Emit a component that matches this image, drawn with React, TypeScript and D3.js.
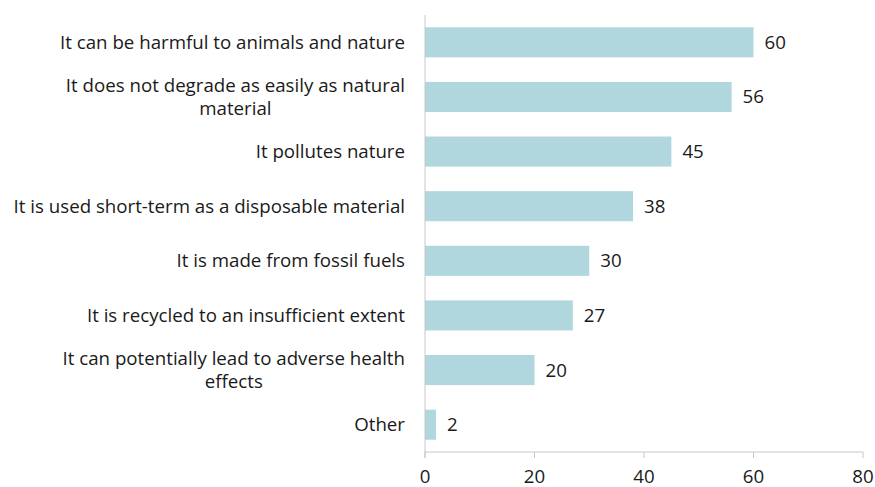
import React, { useEffect, useRef } from "react";
import * as d3 from "d3";

const categories: string[][] = [
  ["It can be harmful to animals and nature"],
  ["It does not degrade as easily as natural", "material"],
  ["It pollutes nature"],
  ["It is used short-term as a disposable material"],
  ["It is made from fossil fuels"],
  ["It is recycled to an insufficient extent"],
  ["It can potentially lead to adverse health", "effects"],
  ["Other"],
];
const values: number[] = [60, 56, 45, 38, 30, 27, 20, 2];
const xTicks: number[] = [0, 20, 40, 60, 80];

const W = 875;
const H = 487;
const M = { left: 425, right: 12, top: 15, bottom: 35 };
const FONT = "'Open Sans', sans-serif";
const FS = 18.7;
const TEXT = "#1a1a1a";
const BAR = "#b0d6de";
const AXIS = "#c8c8c8";

export default function App() {
  const ref = useRef<SVGSVGElement>(null);
  useEffect(() => {
    const svg = d3.select(ref.current);
    svg.selectAll("*").remove();
    const x = d3.scaleLinear().domain([0, 80]).range([M.left, W - M.right]);
    const ids = categories.map((_, i) => String(i));
    const y = d3
      .scaleBand()
      .domain(ids)
      .range([M.top, H - M.bottom])
      .paddingInner(0.45)
      .paddingOuter(0.225);
    const y0 = H - M.bottom;

    // bars
    svg
      .append("g")
      .selectAll("rect")
      .data(values)
      .join("rect")
      .attr("x", x(0))
      .attr("y", (_, i) => y(ids[i])!)
      .attr("width", (d) => x(d) - x(0))
      .attr("height", y.bandwidth())
      .attr("fill", BAR);

    // value labels
    svg
      .append("g")
      .selectAll("text")
      .data(values)
      .join("text")
      .attr("x", (d) => x(d) + 11)
      .attr("y", (_, i) => y(ids[i])! + y.bandwidth() / 2)
      .attr("dy", "0.35em")
      .attr("font-family", FONT)
      .attr("font-size", FS)
      .attr("fill", TEXT)
      .text((d) => String(d));

    // axes lines
    svg
      .append("line")
      .attr("x1", x(0))
      .attr("x2", x(0))
      .attr("y1", M.top)
      .attr("y2", y0 + 6)
      .attr("stroke", AXIS);
    svg
      .append("line")
      .attr("x1", x(0))
      .attr("x2", x(80))
      .attr("y1", y0)
      .attr("y2", y0)
      .attr("stroke", AXIS);
    const tg = svg.append("g");
    xTicks.forEach((t) => {
      tg.append("line")
        .attr("x1", x(t))
        .attr("x2", x(t))
        .attr("y1", y0)
        .attr("y2", y0 + 6)
        .attr("stroke", AXIS);
      tg.append("text")
        .attr("x", x(t))
        .attr("y", y0 + 24)
        .attr("dy", "0.35em")
        .attr("text-anchor", "middle")
        .attr("font-family", FONT)
        .attr("font-size", FS)
        .attr("fill", TEXT)
        .text(String(t));
    });

    // category labels: block right-aligned at 405, lines centered in block
    const lg = svg.append("g");
    const lh = 23;
    categories.forEach((lines, i) => {
      const cy = y(ids[i])! + y.bandwidth() / 2;
      const g = lg.append("g");
      const texts = lines.map((l, j) =>
        g
          .append("text")
          .attr("y", cy + (j - (lines.length - 1) / 2) * lh)
          .attr("dy", "0.35em")
          .attr("text-anchor", "middle")
          .attr("font-family", FONT)
          .attr("font-size", FS)
          .attr("fill", TEXT)
          .text(l)
      );
      const widths = texts.map((t) => (t.node() as SVGTextElement).getComputedTextLength());
      const maxW = Math.max(...widths);
      texts.forEach((t) => t.attr("x", x(0) - 20 - maxW / 2));
    });
  }, []);
  return (
    <svg
      ref={ref}
      width={W}
      height={H}
      style={{ position: "absolute", left: 0, top: 0, background: "#fff" }}
    />
  );
}
